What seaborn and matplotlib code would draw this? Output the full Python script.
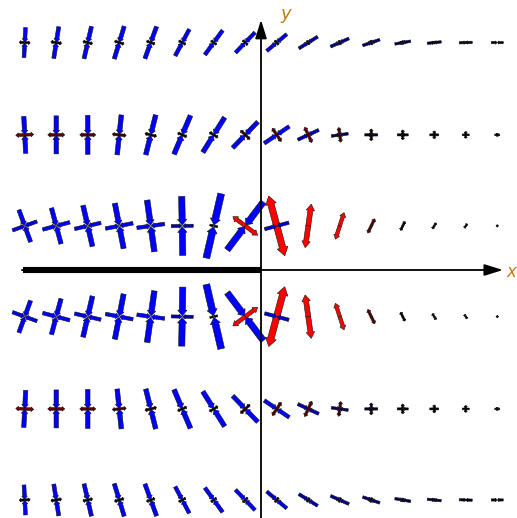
import numpy as np
import matplotlib
matplotlib.use("Agg")
import matplotlib.pyplot as plt
from matplotlib.patches import FancyArrow
import seaborn as sns

# Sampling grid (columns left to right, rows top to bottom)
col_x = np.arange(-7.5, 8.0, 1.0)
row_y = [7.22, 4.29, 1.40, -1.48, -4.41, -7.30]

# Principal stress 1 (signed; negative = compression) and its direction in degrees
sigma1 = [
    [-30, -32, -33, -34, -34, -30, -30, -28, -26, -22, -20, -18, -16, -14, -13, -12],
    [-37, -38, -39, -40, -41, -42, -41, -36, -30, -23, -17, -13, -11, -9, -7, -5],
    [-34, -37, -42, -46, -52, -59, -66, -60, 62, 44, 28, 16, 10, 7, 5, 2],
    [-34, -37, -42, -46, -52, -59, -66, -60, 62, 44, 28, 16, 10, 7, 5, 2],
    [-37, -38, -39, -40, -41, -42, -41, -36, -30, -23, -17, -13, -11, -9, -7, -5],
    [-30, -32, -33, -34, -34, -30, -30, -28, -26, -22, -20, -18, -16, -14, -13, -12],
]
theta1 = [
    [87, 81, 77, 73, 70, 62, 54, 46, 40, 32, 24, 19, 10, 6, 2, 0],
    [93, 90, 90, 84, 76, 67, 58, 46, 34, 25, 8, 0, 0, 0, 0, 0],
    [110, 105, 103, 101, 98, 91, 77, 53, 105, 82, 72, 64, 64, 58, 55, 50],
    [-110, -105, -103, -101, -98, -91, -77, -53, -105, -82, -72, -64, -64, -58, -55, -50],
    [-93, -90, -90, -84, -76, -67, -58, -46, -34, -25, -8, 0, 0, 0, 0, 0],
    [-87, -81, -77, -73, -70, -62, -54, -46, -40, -32, -24, -19, -10, -6, -2, 0],
]
# Principal stress 2 (perpendicular to stress 1)
sigma2 = [
    [11, 11, 10, 10, 9, 8, 7, 7, 6, 5, 5, 5, 4, 3, 2, 0],
    [18, 17, 16, 14, 12, 10, 10, 13, 16, 17, 15, 12, 10, 8, 7, 3],
    [-26, -28, -27, -28, -28, -22, -8, 31, -25, 0, 0, 0, 0, 0, 0, 0],
    [-26, -28, -27, -28, -28, -22, -8, 31, -25, 0, 0, 0, 0, 0, 0, 0],
    [18, 17, 16, 14, 12, 10, 10, 13, 16, 17, 15, 12, 10, 8, 7, 3],
    [11, 11, 10, 10, 9, 8, 7, 7, 6, 5, 5, 5, 4, 3, 2, 0],
]

PX = 31.5  # pixels per data unit

sns.set_theme(style="white")
fig = plt.figure(figsize=(5.17, 5.18), dpi=100)
ax = fig.add_axes([0, 0, 1, 1])
ax.set_xlim(-261 / PX, 256 / PX)
ax.set_ylim(-248 / PX, 270 / PX)
ax.set_aspect("equal")
ax.axis("off")


def glyph_color(s):
    t = float(np.clip((abs(s) - 10) / 18.0, 0.0, 1.0))
    return (t, 0.0, 0.0) if s > 0 else (0.0, 0.0, t)


def stress_bar(x, y, s, ang, z):
    if s == 0:
        return
    half = abs(s) / PX / 2.0
    w = (1.2 + 0.085 * abs(s)) / PX
    ux, uy = np.cos(np.radians(ang)), np.sin(np.radians(ang))
    col = glyph_color(s)
    for sg in (1, -1):
        if s > 0:
            hl = min(1.3 * w, 0.3 * half)
            arr = FancyArrow(x, y, sg * half * ux, sg * half * uy, width=w,
                             head_width=1.7 * w, head_length=hl,
                             length_includes_head=True)
        else:
            hl = min(0.9 * w, 0.25 * half)
            ex, ey = x + sg * half * ux, y + sg * half * uy
            arr = FancyArrow(ex, ey, -sg * half * ux * 0.97, -sg * half * uy * 0.97,
                             width=w, head_width=1.5 * w, head_length=hl,
                             length_includes_head=True)
        arr.set_facecolor(col)
        arr.set_edgecolor("#111111")
        arr.set_linewidth(0.4)
        arr.set_zorder(z)
        ax.add_patch(arr)


for i, yv in enumerate(row_y):
    for j, xv in enumerate(col_x):
        stress_bar(xv, yv, sigma1[i][j], theta1[i][j], 3)
        stress_bar(xv, yv, sigma2[i][j], theta1[i][j] + 90, 4)

# Crack faces along the negative x axis
ax.plot([-7.56, 0], [0, 0], color="black", lw=4.4,
        solid_capstyle="butt", zorder=5)

# Coordinate axes
arrow_kw = dict(arrowstyle="-|>,head_length=0.8,head_width=0.25", color="black",
                lw=1.3, mutation_scale=14, shrinkA=0, shrinkB=0)
ax.annotate("", xy=(7.68, 0), xytext=(-7.59, 0), arrowprops=arrow_kw, zorder=6)
ax.annotate("", xy=(0, 7.94), xytext=(0, -8.0), arrowprops=arrow_kw, zorder=6)
ax.text(0.62, 8.12, "y", fontsize=13, style="italic", color="#c47a12",
        ha="left", va="center")
ax.text(7.80, -0.05, "x", fontsize=12, style="italic", color="#c47a12",
        ha="left", va="center")

fig.savefig("out.png", dpi=100)
